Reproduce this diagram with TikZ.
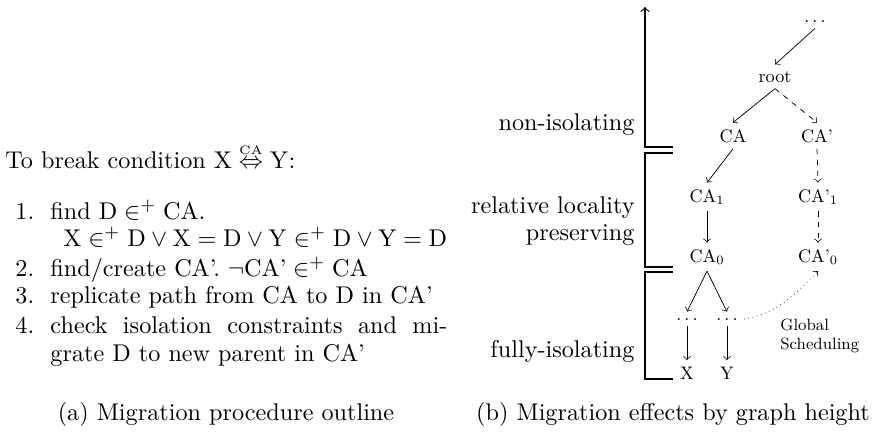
\documentclass[tikz,border=0pt]{standalone}
\usepackage{amsmath}
\begin{document}
\begin{tikzpicture}[x=0.4132pt,y=-0.4132pt,
  txt/.style={inner sep=0pt, anchor=base west},
  lbl/.style={inner sep=0pt, anchor=base east},
  captxt/.style={inner sep=0pt, anchor=base},
  tn/.style={scale=0.75, anchor=base},
  edge/.style={->, line width=0.3pt},
  dashedge/.style={edge, dash pattern=on 2.25pt off 2.25pt},
  dotedge/.style={edge, dash pattern=on 0.3pt off 1.5pt},
  brk/.style={line width=0.5pt}]
\useasboundingbox (0,0) rectangle (872,436);

% ---------- left panel ----------
\node[txt] (head) at (5,168) {To break condition $\mathrm{X}\stackrel{\scriptscriptstyle\mathrm{CA}}{\Leftrightarrow}\mathrm{Y}$:};
\node[txt] (n1) at (15,219) {1.};
\node[txt] (l1) at (50,219) {find $\mathrm{D}\in^{+}\mathrm{CA}$.};
\node[txt] (l1b) at (63,246) {$\mathrm{X}\in^{+}\mathrm{D}\lor\mathrm{X}=\mathrm{D}\lor\mathrm{Y}\in^{+}\mathrm{D}\lor\mathrm{Y}=\mathrm{D}$};
\node[txt] (n2) at (15,276) {2.};
\node[txt] (l2) at (50,276) {find/create CA'. $\neg\text{CA'}\in^{+}\text{CA}$};
\node[txt] (n3) at (15,303) {3.};
\node[txt] (l3) at (50,303) {replicate path from CA to D in CA'};
\node[txt] (n4) at (15,333) {4.};
\node[txt] (l4) at (50,333) {\makebox[164pt][s]{check isolation constraints and mi-}};
\node[txt] (l4b) at (50,361) {grate D to new parent in CA'};

\node[captxt] (capa) at (226,420) {(a) Migration procedure outline};
\node[captxt] (capb) at (673,420) {(b) Migration effects by graph height};

% ---------- right panel: height axis ----------
\draw[brk,->] (673,147) -- (645,147) -- (645,7);
\draw[brk] (673,153) -- (645,153) -- (645,267) -- (673,267);
\draw[brk] (673,272) -- (645,272) -- (645,379) -- (673,379);

\node[lbl] (lnon) at (635,130) {non-isolating};
\node[lbl] (lrel) at (635,213) {relative locality};
\node[lbl] (lpre) at (635,240) {preserving};
\node[lbl] (lful) at (635,357) {fully-isolating};

% ---------- right panel: tree ----------
\node[tn] (td) at (815,22) {$\ldots$};
\node[tn] (root) at (775,82) {root};
\node[tn] (ca) at (733,142) {CA};
\node[tn] (cap) at (817,142) {CA'};
\node[tn] (ca1) at (707,202) {CA$_1$};
\node[tn] (cap1) at (818,202) {CA'$_1$};
\node[tn] (ca0) at (707,262) {CA$_0$};
\node[tn] (cap0) at (818,262) {CA'$_0$};
\node[tn] (dl) at (687,320) {$\ldots$};
\node[tn] (dr) at (727,320) {$\ldots$};
\node[tn] (nx) at (687,379) {X};
\node[tn] (ny) at (727,379) {Y};
\node[scale=0.75, anchor=north west, inner sep=0pt, align=left,
      font=\fontsize{9}{10}\selectfont] (gs) at (780,319) {Global\\Scheduling};

\draw[edge] (td.south) -- (root.north);
\draw[edge] (root.south) -- (ca.north);
\draw[dashedge] (root.south) -- (cap.north);
\draw[edge] (ca.south) -- (ca1.north);
\draw[edge] (ca1.south) -- (ca0.north);
\draw[dashedge] (cap.south) -- (cap1.north);
\draw[dashedge] (cap1.south) -- (cap0.north);
\draw[edge] (ca0.south) -- (dl.north);
\draw[edge] (ca0.south) -- (dr.north);
\draw[edge] (dl.south) -- (nx.north);
\draw[edge] (dr.south) -- (ny.north);
\draw[dotedge] (dr.east) to[out=10,in=-135] (cap0.south);
\end{tikzpicture}
\end{document}
